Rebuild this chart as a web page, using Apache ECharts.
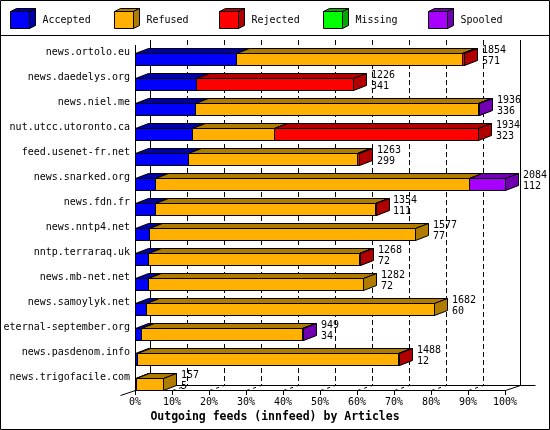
<!DOCTYPE html>
<html>
<head>
<meta charset="utf-8">
<script src="https://cdn.jsdelivr.net/npm/echarts@6/dist/echarts.min.js"></script>
<style>
  html, body { margin: 0; padding: 0; background: #fff; }
  #main { width: 550px; height: 430px; }
</style>
</head>
<body>
<div id="main"></div>
<script>
// innfeed outgoing feeds, articles per peer
const hosts = [
  'news.ortolo.eu', 'news.daedelys.org', 'news.niel.me', 'nut.utcc.utoronto.ca',
  'feed.usenet-fr.net', 'news.snarked.org', 'news.fdn.fr', 'news.nntp4.net',
  'nntp.terraraq.uk', 'news.mb-net.net', 'news.samoylyk.net', 'eternal-september.org',
  'news.pasdenom.info', 'news.trigofacile.com'
]
const offered  = [1854, 1226, 1936, 1934, 1263, 2084, 1354, 1577, 1268, 1282, 1682, 949, 1488, 157]
const accepted = [571, 341, 336, 323, 299, 112, 111, 77, 72, 72, 60, 34, 12, 5]
const refused  = [1273, 0, 1595, 460, 954, 1771, 1239, 1500, 1190, 1210, 1622, 906, 1471, 152]
const rejected = [10, 885, 0, 1151, 10, 0, 4, 0, 6, 0, 0, 0, 5, 0]
const missing  = [0, 0, 0, 0, 0, 0, 0, 0, 0, 0, 0, 0, 0, 0]
const spooled  = [0, 0, 5, 0, 0, 201, 0, 0, 0, 0, 0, 9, 0, 0]

const statusNames  = ['Accepted', 'Refused', 'Rejected', 'Missing', 'Spooled']
const statusColors = ['#0000ff', '#ffb000', '#ff0000', '#00ff00', '#a800ff']
const statusShades = ['#0000a8', '#b07c00', '#b00000', '#00a800', '#7000b0']

const FONT = '"DejaVu Sans Mono", "Liberation Mono", monospace'
const BAR_DX = 13, BAR_DY = 5   // depth of the bars
const WALL_DX = 15, WALL_DY = 5 // depth of the back wall

const maxArticles = Math.max(...offered)
const segments = [accepted, refused, rejected, missing, spooled]

const chart = echarts.init(document.getElementById('main'))

function px(v) {
  return Math.round(v) + 0.5
}

const edge = { stroke: '#000', lineWidth: 1 }

// one stacked segment per status, drawn as a small box
function barSeries(k) {
  const data = hosts.map((h, i) => {
    let start = 0
    for (let j = 0; j < k; j++) start += segments[j][i]
    return [start, start + segments[k][i], i]
  })
  return {
    name: statusNames[k],
    type: 'custom',
    z: 3 + k,
    silent: true,
    encode: { x: [0, 1], y: 2 },
    data: data,
    renderItem(params, api) {
      const a = api.value(0), b = api.value(1)
      if (b <= a) return null
      const p0 = api.coord([a, api.value(2)])
      const p1 = api.coord([b, api.value(2)])
      const x0 = px(p0[0]), x1 = Math.max(px(p1[0]), x0 + 1)
      const top = px(p0[1] + 0.5), bot = top + 12
      const col = statusColors[k], dark = statusShades[k]
      return {
        type: 'group',
        children: [
          { type: 'polygon', shape: { points: [[x0, top], [x0 + BAR_DX, top - BAR_DY], [x1 + BAR_DX, top - BAR_DY], [x1, top]] },
            style: Object.assign({ fill: dark }, edge) },
          { type: 'rect', shape: { x: x0, y: top, width: x1 - x0, height: bot - top },
            style: Object.assign({ fill: col }, edge) },
          { type: 'polygon', shape: { points: [[x1, top], [x1 + BAR_DX, top - BAR_DY], [x1 + BAR_DX, bot - BAR_DY], [x1, bot]] },
            style: Object.assign({ fill: dark }, edge) }
        ]
      }
    }
  }
}

// back wall, grid lines and floor
const tickSteps = [0, 1, 2, 3, 4, 5, 6, 7, 8, 9, 10]
const frameSeries = {
  type: 'custom',
  z: 1,
  silent: true,
  encode: { x: 0, y: 1 },
  data: tickSteps.map(k => [k * maxArticles / 10, 0, k]),
  renderItem(params, api) {
    const cs = params.coordSys
    const k = api.value(2)
    const top = cs.y, fy = cs.y + cs.height + 0.5, by = fy - WALL_DY
    const fx = px(api.coord([api.value(0), 0])[0]), bx = fx + WALL_DX
    const last = k === tickSteps.length - 1
    const children = [
      { type: 'line', shape: { x1: bx, y1: top, x2: bx, y2: by },
        style: { stroke: '#000', lineWidth: 1, lineDash: (k === 0 || last) ? null : [5, 3] } }
    ]
    if (k === 0) {
      children.push({ type: 'line', shape: { x1: fx - WALL_DX, y1: fy + WALL_DY, x2: bx, y2: by }, style: edge })
      children.push({ type: 'line', shape: { x1: fx, y1: top + WALL_DY, x2: fx, y2: fy }, style: edge })
    } else if (last) {
      const x0 = px(api.coord([0, 0])[0]) + WALL_DX
      children.push({ type: 'line', shape: { x1: fx, y1: fy, x2: bx, y2: by }, style: edge })
      children.push({ type: 'line', shape: { x1: x0, y1: by, x2: bx + WALL_DX, y2: by }, style: edge })
    } else {
      children.push({ type: 'line', shape: { x1: fx, y1: fy, x2: bx, y2: by },
        style: { stroke: '#000', lineWidth: 1, lineDash: [3, 4] } })
    }
    return { type: 'group', children: children }
  }
}

// offered / accepted numbers at the end of each bar
const labelSeries = {
  type: 'custom',
  z: 20,
  silent: true,
  encode: { x: 0, y: 1 },
  data: hosts.map((h, i) => [offered[i], i, accepted[i]]),
  renderItem(params, api) {
    const p = api.coord([api.value(0), api.value(1)])
    return {
      type: 'text',
      x: Math.round(p[0]) + BAR_DX + 5,
      y: Math.round(p[1]) - 8,
      style: {
        text: api.value(0) + '\n' + api.value(2),
        font: '10px ' + FONT,
        lineHeight: 11,
        fill: '#000',
        verticalAlign: 'top'
      }
    }
  }
}

// legend with little cubes
const legendItems = statusNames.map((name, k) => {
  const x = Math.round(10 + k * 104.4) + 0.5
  return {
    type: 'group',
    children: [
      { type: 'polygon', shape: { points: [[x, 11.5], [x + 6, 8.5], [x + 25, 8.5], [x + 19, 11.5]] },
        style: Object.assign({ fill: statusShades[k] }, edge) },
      { type: 'polygon', shape: { points: [[x + 19, 11.5], [x + 25, 8.5], [x + 25, 25.5], [x + 19, 28.5]] },
        style: Object.assign({ fill: statusShades[k] }, edge) },
      { type: 'rect', shape: { x: x, y: 11.5, width: 19, height: 17 },
        style: Object.assign({ fill: statusColors[k] }, edge) },
      { type: 'text', x: x + 32, y: 20,
        style: { text: name, font: '10px ' + FONT, fill: '#000', verticalAlign: 'middle' } }
    ]
  }
})

const option = {
  animation: false,
  backgroundColor: '#fff',
  title: {
    text: 'Outgoing feeds (innfeed) by Articles',
    left: 'center',
    top: 411,
    padding: 0,
    textStyle: { fontFamily: FONT, fontSize: 11.5, fontWeight: 'bold', color: '#000' }
  },
  grid: { left: 135, top: 40, width: 370, height: 350, outerBoundsMode: 'none' },
  xAxis: {
    type: 'value',
    min: 0,
    max: maxArticles,
    interval: maxArticles / 10,
    axisLine: { show: true, lineStyle: { color: '#000', width: 1 } },
    axisTick: { show: true, length: 5, lineStyle: { color: '#000' } },
    axisLabel: {
      formatter: v => Math.round(v / maxArticles * 100) + '%',
      fontFamily: FONT, fontSize: 10, color: '#000', margin: 7
    },
    splitLine: { show: false }
  },
  yAxis: {
    type: 'category',
    data: hosts,
    inverse: true,
    axisLine: { show: false },
    axisTick: { show: false },
    axisLabel: { fontFamily: FONT, fontSize: 10, color: '#000', margin: 5, padding: [14, 0, 0, 0] }
  },
  graphic: [
    { type: 'rect', shape: { x: 0.5, y: 0.5, width: 549, height: 429 }, style: { fill: null, stroke: '#000', lineWidth: 1 }, z: 100 },
    { type: 'line', shape: { x1: 0, y1: 35.5, x2: 550, y2: 35.5 }, style: { stroke: '#000', lineWidth: 1 } }
  ].concat(legendItems),
  series: [frameSeries].concat(statusNames.map((n, k) => barSeries(k)), [labelSeries])
}

chart.setOption(option)
</script>
</body>
</html>
